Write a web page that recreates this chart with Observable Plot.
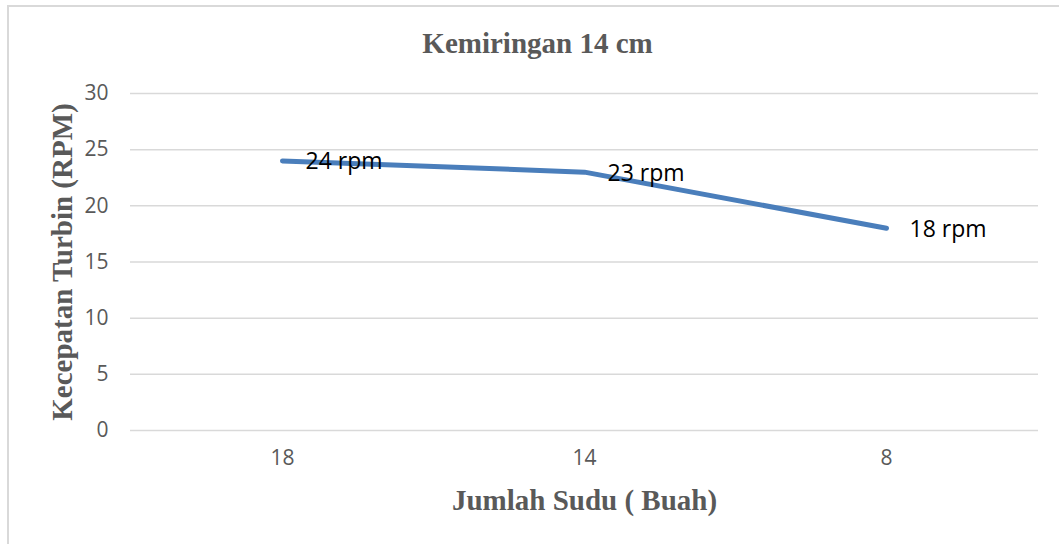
<!DOCTYPE html>
<html>
<head>
<meta charset="utf-8">
<script src="https://cdn.jsdelivr.net/npm/d3@7"></script>
<script src="https://cdn.jsdelivr.net/npm/@observablehq/plot@0.6"></script>
<style>
  html, body { margin: 0; padding: 0; background: #fff; }
  #wrap { position: relative; width: 1059px; height: 544px; overflow: hidden; }
  #frame { position: absolute; left: 7px; top: 5px; right: -10px; bottom: -10px;
           border-top: 2px solid #d9d9d9; border-left: 2px solid #d9d9d9; }
  #chart { position: absolute; left: 0; top: 0; }
</style>
</head>
<body>
<div id="wrap"><div id="frame"></div><div id="chart"></div></div>
<script>
const categories = ["18", "14", "8"];
const values = [24, 23, 18];
const labels = ["24 rpm", "23 rpm", "18 rpm"];
const yTicks = [0, 5, 10, 15, 20, 25, 30];
const title = "Kemiringan 14 cm";
const xTitle = "Jumlah Sudu ( Buah)";
const yTitle = "Kecepatan Turbin (RPM)";

const data = categories.map((c, i) => ({cat: c, val: values[i], label: labels[i]}));
const grey = "#595959";
const serif = "'Liberation Serif', 'Times New Roman', serif";

const chart = Plot.plot({
  width: 1059,
  height: 544,
  marginLeft: 130,
  marginRight: 21,
  marginTop: 93,
  marginBottom: 114,
  style: {background: "transparent", fontFamily: "'Open Sans', sans-serif", fontSize: "21px", color: grey, overflow: "visible"},
  x: {type: "point", domain: categories, padding: 0.5, axis: null},
  y: {domain: [0, 30], axis: null},
  marks: [
    Plot.ruleY(yTicks, {stroke: "#d9d9d9", strokeWidth: 1.5}),
    Plot.axisY({ticks: yTicks, tickSize: 0, tickPadding: 22, label: null, fill: grey, fontSize: 21}),
    Plot.axisX({tickSize: 0, tickPadding: 20, label: null, fill: grey, fontSize: 21}),
    Plot.line(data, {x: "cat", y: "val", stroke: "#4a7ebb", strokeWidth: 5, strokeLinecap: "round", strokeLinejoin: "round"}),
    Plot.text(data, {x: "cat", y: "val", text: "label", textAnchor: "start", lineAnchor: "middle", dx: 23, dy: 1, fill: "#000", fontSize: 23}),
    Plot.text([title], {frameAnchor: "top", dx: -47, dy: -50, textAnchor: "middle", lineAnchor: "middle", fontFamily: serif, fontWeight: "bold", fontSize: 29, fill: grey}),
    Plot.text([xTitle], {frameAnchor: "bottom", dx: 0, dy: 70, textAnchor: "middle", lineAnchor: "middle", fontFamily: serif, fontWeight: "bold", fontSize: 29, fill: grey}),
    Plot.text([yTitle], {frameAnchor: "left", dx: -68, dy: 0, rotate: -90, textAnchor: "middle", lineAnchor: "middle", fontFamily: serif, fontWeight: "bold", fontSize: 29, fill: grey})
  ]
});
document.getElementById("chart").appendChild(chart);
</script>
</body>
</html>
